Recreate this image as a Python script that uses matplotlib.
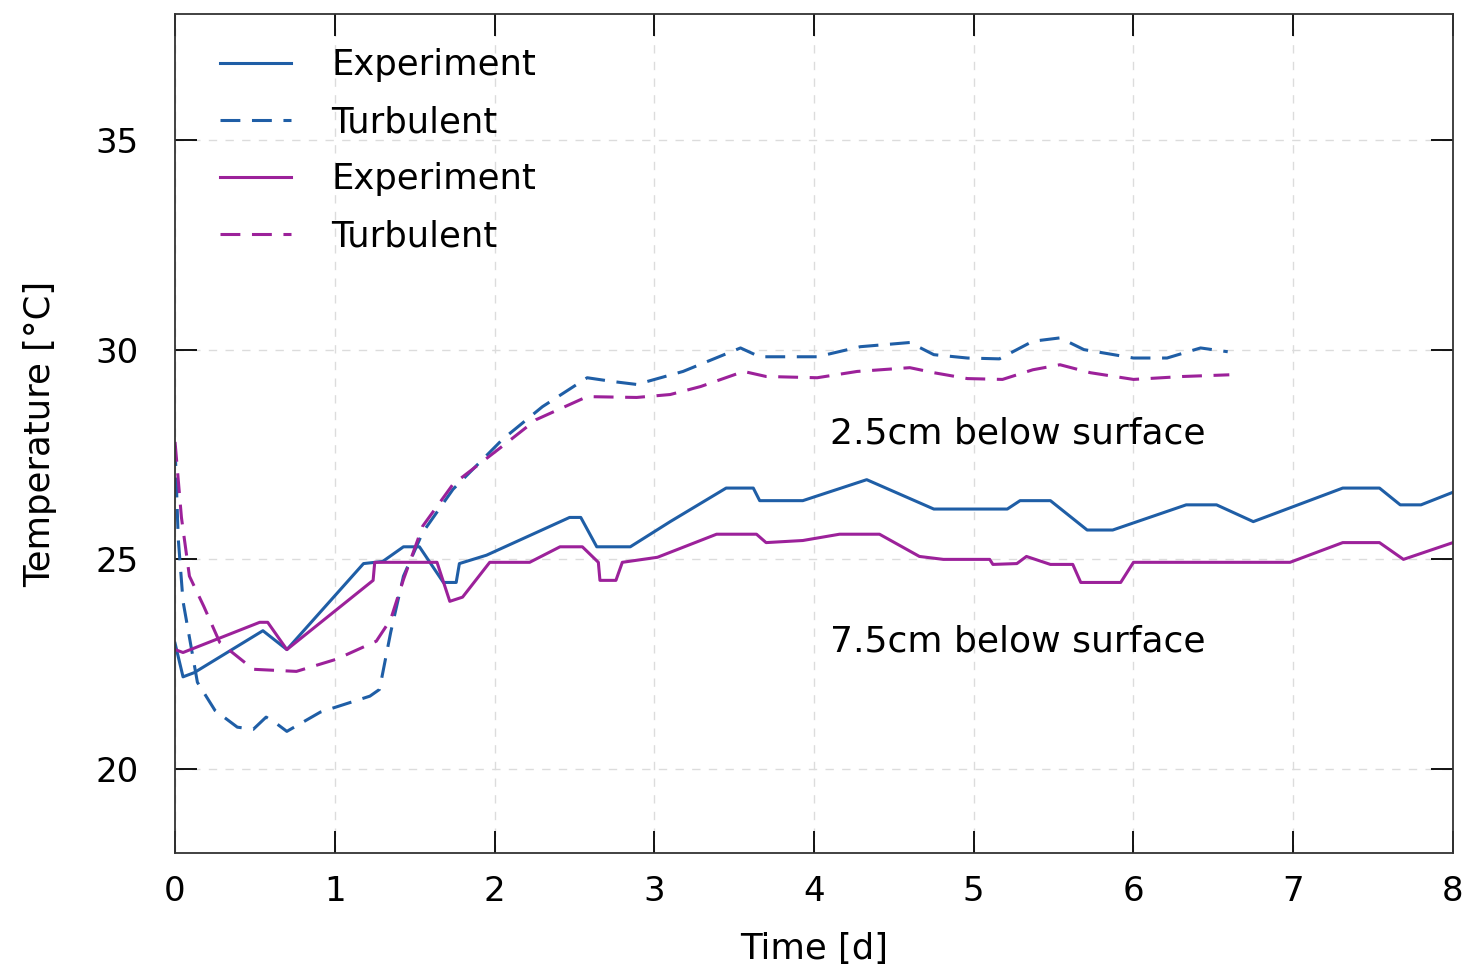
import matplotlib
matplotlib.use("Agg")
import matplotlib.pyplot as plt

plt.rcParams['font.family'] = ['DejaVu Sans']

# ---- data ----
exp25_t = [0.0, 0.05, 0.12, 0.55, 0.70, 1.18, 1.30, 1.43, 1.53, 1.68, 1.76, 1.78, 1.95,
           2.47, 2.54, 2.64, 2.85, 3.10, 3.45, 3.62, 3.66, 3.93, 4.33, 4.75, 5.21, 5.29,
           5.48, 5.71, 5.87, 6.33, 6.52, 6.75, 7.31, 7.54, 7.67, 7.80, 8.0]
exp25_T = [23.0, 22.2, 22.3, 23.3, 22.85, 24.9, 24.95, 25.3, 25.3, 24.45, 24.45, 24.9, 25.1,
           26.0, 26.0, 25.3, 25.3, 25.9, 26.7, 26.7, 26.4, 26.4, 26.9, 26.2, 26.2, 26.4,
           26.4, 25.7, 25.7, 26.3, 26.3, 25.9, 26.7, 26.7, 26.3, 26.3, 26.6]

exp75_t = [0.0, 0.05, 0.53, 0.58, 0.70, 1.24, 1.25, 1.64, 1.72, 1.80, 1.97, 2.22, 2.41,
           2.55, 2.65, 2.66, 2.76, 2.80, 3.02, 3.39, 3.64, 3.70, 3.93, 4.16, 4.41, 4.66,
           4.81, 5.10, 5.12, 5.27, 5.33, 5.48, 5.62, 5.67, 5.92, 6.0, 6.98, 7.31, 7.54,
           7.69, 8.0]
exp75_T = [22.85, 22.78, 23.5, 23.5, 22.85, 24.5, 24.93, 24.93, 24.0, 24.1, 24.93, 24.93, 25.3,
           25.3, 24.93, 24.5, 24.5, 24.93, 25.05, 25.6, 25.6, 25.4, 25.45, 25.6, 25.6, 25.07,
           25.0, 25.0, 24.88, 24.9, 25.07, 24.88, 24.88, 24.45, 24.45, 24.93, 24.93, 25.4, 25.4,
           25.0, 25.4]

turb25_t = [0.0, 0.02, 0.05, 0.14, 0.25, 0.39, 0.49, 0.57, 0.63, 0.70, 0.91, 1.22, 1.28,
            1.35, 1.43, 1.55, 1.74, 2.05, 2.30, 2.58, 2.74, 2.89, 3.18, 3.54, 3.66, 4.02,
            4.29, 4.60, 4.75, 4.96, 5.16, 5.37, 5.54, 5.69, 6.0, 6.21, 6.42, 6.59]
turb25_T = [27.7, 25.5, 24.0, 22.07, 21.4, 21.0, 20.95, 21.24, 21.1, 20.9, 21.36, 21.74, 21.9,
            23.26, 24.6, 25.64, 26.67, 27.86, 28.64, 29.33, 29.24, 29.17, 29.48, 30.04, 29.83, 29.83,
            30.07, 30.17, 29.88, 29.8, 29.78, 30.2, 30.28, 30.0, 29.8, 29.8, 30.04, 29.95]

turb75_t = [0.0, 0.04, 0.09, 0.18, 0.28, 0.49, 0.76, 1.01, 1.26, 1.35, 1.43, 1.55, 1.74,
            2.05, 2.26, 2.58, 2.89, 3.10, 3.29, 3.56, 3.70, 4.02, 4.27, 4.60, 4.75, 4.96,
            5.18, 5.37, 5.54, 5.73, 6.0, 6.31, 6.60]
turb75_T = [27.8, 26.0, 24.6, 23.88, 23.02, 22.38, 22.33, 22.62, 23.05, 23.57, 24.52, 25.79, 26.79,
            27.7, 28.33, 28.88, 28.86, 28.93, 29.12, 29.48, 29.36, 29.33, 29.48, 29.57, 29.45, 29.31,
            29.29, 29.52, 29.64, 29.45, 29.29, 29.36, 29.4]

blue = '#1f5ea6'
purple = '#9c219a'

fig = plt.figure(figsize=(14.66, 9.75), dpi=100)
ax = fig.add_axes([0.1194, 0.1251, 0.8717, 0.8605])

ax.plot(exp25_t, exp25_T, color=blue, lw=2.2, label='Experiment')
ax.plot(turb25_t, turb25_T, color=blue, lw=2.2, dashes=(6.5, 3.8), label='Turbulent')
ax.plot(exp75_t, exp75_T, color=purple, lw=2.2, label='Experiment')
ax.plot(turb75_t, turb75_T, color=purple, lw=2.2, dashes=(6.5, 3.8), label='Turbulent')

ax.text(4.1, 28.0, '2.5cm below surface', fontsize=26, va='center', ha='left')
ax.text(4.1, 23.05, '7.5cm below surface', fontsize=26, va='center', ha='left')

ax.set_xlim(0, 8)
ax.set_ylim(18, 38)
ax.set_xticks(range(0, 9))
ax.set_yticks([20, 25, 30, 35])
ax.tick_params(direction='in', length=16, width=1.3, labelsize=24.5,
               top=True, right=True)
ax.tick_params(axis='y', pad=26)
ax.tick_params(axis='x', pad=16)
for s in ax.spines.values():
    s.set_linewidth(1.3)
    s.set_color('#333333')
ax.grid(True, color='#dcdcdc', linestyle=(0, (6, 6)), lw=1.0)
ax.set_axisbelow(True)

ax.set_xlabel('Time [d]', fontsize=25.5, labelpad=17)
ax.set_ylabel('Temperature [\u00b0C]', fontsize=25.5, labelpad=28)

ax.legend(loc='upper left', frameon=False, fontsize=25.5, handlelength=2.0,
          handletextpad=1.15, labelspacing=0.65, borderpad=0, borderaxespad=0,
          bbox_to_anchor=(0.035, 0.959))

fig.savefig('out.png', dpi=100)
